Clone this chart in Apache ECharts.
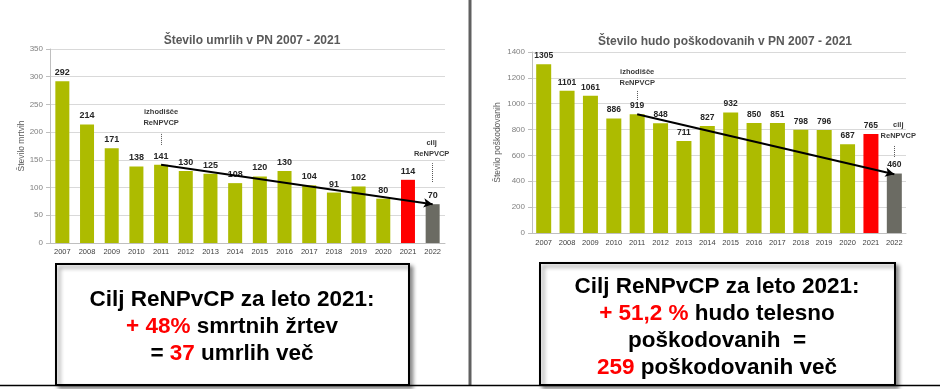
<!DOCTYPE html>
<html>
<head>
<meta charset="utf-8">
<script src="https://cdn.jsdelivr.net/npm/echarts@6/dist/echarts.min.js"></script>
<style>
html,body{margin:0;padding:0;background:#fff;}
#c{width:940px;height:389px;}
</style>
</head>
<body>
<div id="c"></div>
<script>
const years = ['2007','2008','2009','2010','2011','2012','2013','2014','2015','2016','2017','2018','2019','2020','2021','2022'];
const deaths = [292,214,171,138,141,130,125,108,120,130,104,91,102,80,114,70];
const injured = [1305,1101,1061,886,919,848,711,827,932,850,851,798,796,687,765,460];
const barColors = ['#adbb00','#adbb00','#adbb00','#adbb00','#adbb00','#adbb00','#adbb00','#adbb00','#adbb00','#adbb00','#adbb00','#adbb00','#adbb00','#adbb00','#ff0000','#6b6b63'];
const leftTicks = {min:0, max:350, interval:50};
const rightTicks = {min:0, max:1400, interval:200};
// trend arrows and annotation anchors (data coordinates)
const leftArrow = [['2011',141],['2022',70]];
const rightArrow = [['2011',919],['2022',455]];
const leftStartMark = {x:'2011', text:227, line:[177,198]};
const leftGoalMark = {x:'2022', text:170, line:[110,144]};
const rightStartMark = {x:'2011', text:1203, line:[1029,1106]};
const rightGoalMark = {x:'2022', text:793, line:[588,681]};

const chart = echarts.init(document.getElementById('c'), null, {renderer:'canvas'});
const FONT = 'Liberation Sans, Arial, sans-serif';

function makeData(vals){
  return vals.map((v,i)=>({value:v, itemStyle:{color:barColors[i]}}));
}
function dotted(m){
  return [{coord:[m.x,m.line[0]], symbol:'none'},{coord:[m.x,m.line[1]], symbol:'none', lineStyle:{type:'dotted', color:'#555', width:1}}];
}
function arrow(a){
  return [{coord:a[0], symbol:'none'},{coord:a[1], symbol:'arrow', symbolSize:[7,9], lineStyle:{type:'solid', color:'#000', width:2}}];
}
function annot(m, txt, off){
  return {coord:[m.x,m.text], symbol:'rect', symbolSize:[1,1], itemStyle:{color:'rgba(0,0,0,0)'},
    label:{show:true, position:'inside', offset:[off||0,0], formatter:txt, fontFamily:FONT, fontWeight:'bold', fontSize:7.5, color:'#3a3a3a', lineHeight:11, align:'center'}};
}

function catAxis(idx, margin){
  return {type:'category', gridIndex:idx, data:years,
    axisLine:{lineStyle:{color:'#bfbfbf'}}, axisTick:{show:false},
    axisLabel:{fontFamily:FONT, fontSize:7.5, color:'#404040', margin:margin, interval:0}};
}
function valAxis(idx, t, name, gap){
  return {type:'value', gridIndex:idx, min:t.min, max:t.max, interval:t.interval,
    name:name, nameLocation:'middle', nameGap:gap, nameRotate:90,
    nameTextStyle:{fontFamily:FONT, fontSize:8.5, color:'#595959'},
    axisLine:{show:true, lineStyle:{color:'#bfbfbf'}}, axisTick:{show:true, length:4, lineStyle:{color:'#bfbfbf'}},
    axisLabel:{fontFamily:FONT, fontSize:8, color:'#808080', margin:7, formatter:function(v){return String(v);}},
    splitLine:{lineStyle:{color:'#d9d9d9'}}};
}

const boxText = {fontFamily:FONT, fontWeight:'bold', fontSize:22.5, lineHeight:27};
const blackStyle = Object.assign({fill:'#000', color:'#000'}, boxText);
const redStyle = Object.assign({fill:'#ff0000', color:'#ff0000'}, boxText);

chart.setOption({
  animation:false,
  backgroundColor:'#fff',
  title:[
    {text:'Število umrlih v PN 2007 - 2021', left:247, top:30, textAlign:'center',
     textStyle:{fontFamily:FONT, fontSize:12, fontWeight:'bold', color:'#595959'}},
    {text:'Število hudo poškodovanih v PN 2007 - 2021', left:720, top:31, textAlign:'center',
     textStyle:{fontFamily:FONT, fontSize:12, fontWeight:'bold', color:'#595959'}}
  ],
  grid:[
    {left:50, top:49, width:395, height:194},
    {left:532, top:52, width:374, height:181}
  ],
  xAxis:[catAxis(0,5), catAxis(1,6)],
  yAxis:[valAxis(0,leftTicks,'Število mrtvih',24), valAxis(1,rightTicks,'Število poškodovanih',30)],
  series:[
    {type:'bar', xAxisIndex:0, yAxisIndex:0, data:makeData(deaths), barWidth:14,
     label:{show:true, position:'top', distance:4, fontFamily:FONT, fontWeight:'bold', fontSize:9, color:'#262626'},
     markLine:{silent:true, symbol:['none','none'], label:{show:false}, lineStyle:{type:'solid', color:'#000', width:2},
       data:[arrow(leftArrow), dotted(leftStartMark), dotted(leftGoalMark)]},
     markPoint:{silent:true, data:[annot(leftStartMark,'izhodišče\nReNPVCP'), annot(leftGoalMark,'cilj\nReNPVCP',-1)]}
    },
    {type:'bar', xAxisIndex:1, yAxisIndex:1, data:makeData(injured), barWidth:15,
     label:{show:true, position:'top', distance:4, fontFamily:FONT, fontWeight:'bold', fontSize:8.5, color:'#262626'},
     markLine:{silent:true, symbol:['none','none'], label:{show:false}, lineStyle:{type:'solid', color:'#000', width:2},
       data:[arrow(rightArrow), dotted(rightStartMark), dotted(rightGoalMark)]},
     markPoint:{silent:true, data:[annot(rightStartMark,'izhodišče\nReNPVCP'), annot(rightGoalMark,'cilj\nReNPVCP',4)]}
    }
  ],
  graphic:[
    {type:'line', shape:{x1:470, y1:0, x2:470, y2:385}, style:{stroke:'#606060', lineWidth:3}, z:10},
    {type:'line', shape:{x1:0, y1:385.5, x2:940, y2:385.5}, style:{stroke:'#000', lineWidth:1.5}, z:10},
    {type:'rect', shape:{x:56, y:264, width:353, height:121},
     style:{fill:'#fff', stroke:'#000', lineWidth:2, shadowBlur:4, shadowOffsetX:3, shadowOffsetY:3, shadowColor:'rgba(0,0,0,0.45)'}, z:5},
    {type:'text', x:232, y:327, z:6,
     style:{text:'{b|Cilj ReNPvCP za leto 2021:}\n{r|+ 48%}{b| smrtnih žrtev}\n{b|= }{r|37}{b| umrlih več}',
       align:'center', verticalAlign:'middle', rich:{b:blackStyle, r:redStyle}}},
    {type:'rect', shape:{x:540, y:263, width:355, height:122},
     style:{fill:'#fff', stroke:'#000', lineWidth:2, shadowBlur:4, shadowOffsetX:3, shadowOffsetY:3, shadowColor:'rgba(0,0,0,0.45)'}, z:5},
    {type:'text', x:717, y:327, z:6,
     style:{text:'{b|Cilj ReNPvCP za leto 2021:}\n{r|+ 51,2 %}{b| hudo telesno}\n{b|poškodovanih  =}\n{r|259}{b| poškodovanih več}',
       align:'center', verticalAlign:'middle', rich:{b:blackStyle, r:redStyle}}}
  ]
});
</script>
</body>
</html>
